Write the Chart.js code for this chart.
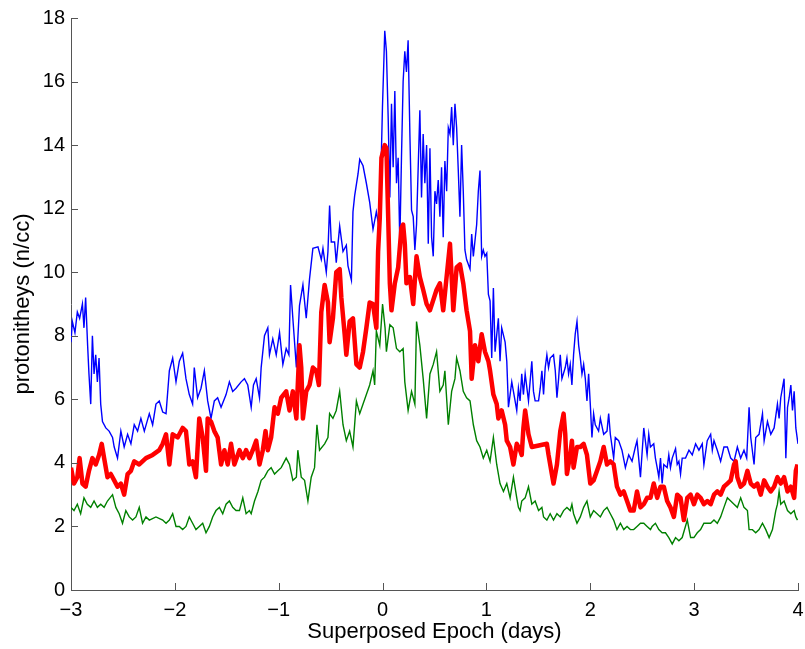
<!DOCTYPE html>
<html>
<head>
<meta charset="utf-8">
<script src="https://cdn.jsdelivr.net/npm/chart.js@4.4.1/dist/chart.umd.min.js"></script>
<style>
  html, body { margin: 0; padding: 0; background: #fff; }
</style>
</head>
<body>
<canvas id="epochChart" width="805" height="649"></canvas>
<script>
// superposed epoch analysis, proton density
// upper (blue), median (red), lower (green) curves

const xTicks = [-3, -2, -1, 0, 1, 2, 3, 4];
const yTicks = [0, 2, 4, 6, 8, 10, 12, 14, 16, 18];

const blueT = [-3.0, -2.987, -2.962, -2.939, -2.917, -2.89, -2.875, -2.859, -2.84, -2.827, -2.81, -2.794, -2.778, -2.762, -2.746, -2.73, -2.714, -2.697, -2.665, -2.633, -2.6, -2.584, -2.552, -2.52, -2.488, -2.455, -2.423, -2.391, -2.359, -2.327, -2.294, -2.246, -2.214, -2.182, -2.15, -2.117, -2.085, -2.053, -2.021, -1.989, -1.957, -1.925, -1.893, -1.861, -1.829, -1.813, -1.781, -1.748, -1.716, -1.684, -1.652, -1.62, -1.588, -1.555, -1.507, -1.475, -1.443, -1.411, -1.362, -1.33, -1.298,
  -1.265, -1.243, -1.217, -1.185, -1.169, -1.137, -1.105, -1.089, -1.057, -1.024, -0.992, -0.96, -0.928, -0.902, -0.886, -0.864, -0.83, -0.8, -0.767, -0.735, -0.703, -0.671, -0.622, -0.59, -0.574, -0.542, -0.526, -0.51, -0.494, -0.462, -0.446, -0.413, -0.381, -0.349, -0.333, -0.3, -0.285, -0.269, -0.236, -0.22, -0.188, -0.156, -0.124, -0.092, -0.06, -0.027,
  -0.011, -0.001, 0.012, 0.021, 0.037, 0.054, 0.07, 0.086, 0.102, 0.118, 0.134, 0.15, 0.166, 0.182, 0.198, 0.214, 0.23, 0.246, 0.263, 0.279, 0.295, 0.311, 0.327, 0.359, 0.375, 0.391, 0.407, 0.424, 0.44, 0.456, 0.472, 0.488, 0.504, 0.52, 0.536, 0.552, 0.568, 0.584, 0.6, 0.617, 0.633, 0.649, 0.665, 0.681, 0.697, 0.713, 0.729, 0.745, 0.761, 0.777, 0.793, 0.809, 0.842, 0.858, 0.874, 0.906, 0.922, 0.938, 0.954, 0.97, 0.986, 1.003,
  1.019, 1.035, 1.051, 1.067, 1.083, 1.115, 1.131, 1.147, 1.18, 1.196, 1.212, 1.228, 1.244, 1.26, 1.292,
  1.308, 1.324, 1.34, 1.356, 1.373, 1.405, 1.437, 1.453, 1.469, 1.502, 1.518, 1.534, 1.55, 1.566, 1.582, 1.598, 1.614, 1.646, 1.663, 1.679, 1.695, 1.711, 1.727, 1.759, 1.775, 1.791, 1.807, 1.823, 1.839, 1.855, 1.872, 1.888, 1.904, 1.92, 1.936, 1.952, 1.968, 1.984, 2.0, 2.016, 2.032, 2.048, 2.08, 2.097, 2.129, 2.161, 2.177, 2.193, 2.225, 2.241, 2.273, 2.305, 2.338, 2.37, 2.402, 2.434, 2.45, 2.483, 2.515, 2.547, 2.563,
  2.579, 2.611, 2.627, 2.644, 2.66, 2.676, 2.692, 2.708, 2.74, 2.756, 2.772, 2.789, 2.821, 2.837, 2.853, 2.869, 2.885, 2.917, 2.95, 2.982, 3.014, 3.046, 3.078, 3.094, 3.126, 3.159, 3.175, 3.191, 3.223, 3.255, 3.287, 3.32, 3.352, 3.384, 3.416, 3.448, 3.48, 3.506, 3.529, 3.545, 3.577, 3.593, 3.625, 3.658, 3.674, 3.706, 3.738, 3.77, 3.802, 3.818, 3.834, 3.85, 3.866, 3.883, 3.899, 3.915, 3.931, 3.947, 3.963, 3.979, 4.0];
const blueV = [7.8, 8.45, 8.1, 8.75, 8.55, 9.0, 8.25, 9.2, 7.7, 6.8, 5.85, 8.0, 6.8, 7.4, 6.55, 7.3, 5.85, 5.3, 5.1, 5.0, 4.8, 4.5, 4.15, 5.0, 4.5, 4.9, 4.6, 5.2, 5.0, 5.4, 5.0, 5.55, 5.2, 5.85, 5.95, 5.6, 5.55, 6.9, 7.3, 6.55, 7.2, 7.45, 6.65, 6.15, 5.85, 7.0, 6.05, 6.35, 6.9, 5.95, 5.4, 5.95, 6.05, 5.75, 6.15, 6.55, 6.25, 6.35, 6.55, 6.65, 6.45,
  5.75, 6.45, 6.65, 6.05, 7.0, 8.0, 8.25, 7.4, 7.9, 7.4, 8.1, 7.1, 7.6, 7.4, 9.6, 8.55, 7.0, 8.95, 9.6, 8.55, 9.8, 10.75, 10.8, 10.4, 10.75, 10.0, 10.65, 12.1, 10.95, 10.95, 10.3, 11.45, 10.65, 10.85, 10.2, 9.75, 11.9, 12.4, 13.1, 13.55, 13.35, 12.8, 12.2, 11.35, 11.9, 11.3,
  13.8, 15.2, 16.6, 17.6, 16.95, 14.85, 12.35, 15.3, 13.3, 15.7, 12.8, 13.6, 10.9, 13.6, 16.0, 16.95, 16.3, 17.3, 14.35, 11.95, 11.75, 10.7, 11.5, 15.1, 12.35, 14.35, 12.8, 14.0, 10.9, 13.9, 11.1, 10.5, 12.55, 12.15, 12.9, 11.75, 13.3, 11.1, 13.5, 12.55, 14.55, 14.35, 15.2, 14.0, 15.3, 14.55, 13.2, 11.75, 14.0, 12.55, 10.7, 10.4, 10.1, 11.2, 10.5, 11.5, 12.55, 13.2, 10.5, 10.7, 10.5, 10.6,
  9.3, 9.1, 7.3, 9.5, 7.5, 8.55, 7.2, 8.25, 7.8, 7.2, 5.75, 6.15, 6.55, 6.25, 5.65,
  6.35, 5.95, 6.8, 6.15, 6.8, 5.95, 7.2, 6.25, 5.95, 5.95, 6.35, 6.9, 6.15, 7.0, 7.4, 7.0, 7.3, 7.4, 6.9, 6.05, 6.65, 7.4, 6.65, 7.0, 7.3, 6.8, 7.1, 6.45, 7.4, 8.05, 8.45, 7.7, 7.3, 6.8, 7.1, 6.65, 5.95, 6.8, 5.85, 4.8, 5.55, 5.2, 5.0, 5.4, 4.9, 5.0, 5.55, 4.9, 4.15, 4.8, 4.7, 4.4, 3.85, 4.25, 4.05, 4.5, 4.7, 3.55, 5.1, 4.25, 4.9,
  4.5, 4.6, 4.15, 3.85, 3.55, 4.15, 3.35, 3.95, 3.85, 4.25, 3.85, 4.15, 4.45, 3.95, 4.05, 3.65, 4.15, 4.15, 4.4, 4.25, 4.6, 4.4, 4.6, 3.95, 4.7, 4.9, 4.4, 4.7, 4.4, 4.05, 4.5, 4.5, 4.15, 4.05, 4.5, 4.15, 4.4, 4.15, 5.75, 4.8, 3.95, 4.8, 4.9, 5.55, 4.7, 5.3, 4.9, 5.1, 5.85, 5.4, 6.05, 6.35, 6.65, 4.15, 5.75, 6.05, 6.45, 5.65, 6.25, 5.1, 4.6];

const redT = [-3.0, -2.971, -2.939, -2.917, -2.89, -2.859, -2.827, -2.794, -2.762, -2.73, -2.704, -2.681, -2.649, -2.617, -2.584, -2.552, -2.52, -2.488, -2.455, -2.423, -2.391, -2.343, -2.278, -2.214, -2.15, -2.117, -2.085, -2.053, -2.021, -1.973, -1.925, -1.893, -1.861, -1.829, -1.797, -1.765, -1.732, -1.7, -1.684, -1.652, -1.62, -1.588, -1.555, -1.523, -1.491, -1.459, -1.427, -1.378, -1.346, -1.314, -1.282,
  -1.25, -1.217, -1.185, -1.153, -1.127, -1.105, -1.073, -1.04, -1.008, -0.976, -0.928, -0.896, -0.864, -0.83, -0.8, -0.783, -0.767, -0.735, -0.703, -0.671, -0.639, -0.613, -0.59, -0.558, -0.526, -0.51, -0.478, -0.446, -0.413, -0.397, -0.365, -0.349, -0.317, -0.285, -0.252, -0.22, -0.188, -0.156, -0.124, -0.092, -0.06, -0.043, -0.027,
  -0.011, 0.021, 0.037, 0.054, 0.07, 0.086, 0.118, 0.15, 0.182, 0.198, 0.214, 0.23, 0.263, 0.295, 0.327, 0.359, 0.391, 0.424, 0.456, 0.52, 0.552, 0.584, 0.649, 0.681, 0.713, 0.745, 0.777, 0.809,
  0.842, 0.858, 0.89, 0.922, 0.954, 0.986, 1.019, 1.035, 1.067, 1.099, 1.115, 1.147, 1.18, 1.196, 1.228, 1.26, 1.292, 1.324,
  1.34, 1.356, 1.373, 1.405, 1.437, 1.582, 1.598, 1.63, 1.646, 1.679, 1.711, 1.743, 1.759, 1.775, 1.807, 1.823, 1.839, 1.872, 1.904, 1.936, 1.968, 2.0, 2.032, 2.065, 2.097, 2.129, 2.161, 2.193, 2.225, 2.257, 2.29, 2.322, 2.354, 2.386, 2.418, 2.45, 2.483, 2.515, 2.547, 2.58,
  2.611, 2.644, 2.676, 2.708, 2.74, 2.772, 2.805, 2.837, 2.869, 2.901, 2.934, 2.966, 2.998, 3.03, 3.062, 3.094, 3.126, 3.159, 3.191, 3.223, 3.255, 3.287, 3.32, 3.352, 3.384, 3.4, 3.416, 3.448, 3.48, 3.513, 3.545, 3.577, 3.609, 3.641, 3.674, 3.706, 3.738, 3.77, 3.802, 3.834, 3.866, 3.899, 3.931, 3.963, 3.979, 3.995];
const redV = [3.85, 3.35, 3.55, 4.15, 3.35, 3.25, 3.75, 4.15, 3.95, 4.25, 4.6, 4.15, 3.55, 3.65, 3.45, 3.25, 3.35, 3.0, 3.65, 3.75, 4.05, 3.95, 4.15, 4.25, 4.4, 4.6, 4.9, 3.95, 4.9, 4.8, 5.1, 5.0, 3.95, 4.05, 3.55, 5.4, 4.8, 3.75, 5.4, 5.3, 5.0, 4.8, 3.95, 4.4, 3.95, 4.6, 3.95, 4.4, 4.15, 4.4, 4.15,
  4.4, 4.7, 3.95, 4.4, 5.0, 4.4, 4.8, 5.75, 5.55, 6.05, 6.25, 5.65, 6.25, 5.4, 7.7, 7.0, 5.4, 6.25, 6.45, 7.0, 6.9, 6.45, 8.75, 9.6, 9.05, 7.8, 8.55, 10.0, 10.1, 9.2, 8.05, 7.4, 8.45, 8.55, 7.1, 7.0, 7.5, 8.25, 9.05, 9.0, 8.25, 10.65, 11.7,
  13.6, 14.0, 13.9, 11.75, 9.65, 8.8, 9.65, 10.15, 11.4, 11.5, 10.9, 9.65, 9.85, 9.0, 10.5, 9.85, 9.45, 9.0, 8.8, 9.45, 9.65, 8.8, 10.9, 8.8, 10.15, 10.25, 9.65, 8.8,
  8.15, 6.65, 7.7, 7.2, 8.05, 7.5, 7.2, 6.9, 6.15, 5.85, 5.4, 5.65, 5.2, 4.7, 4.5, 3.95, 4.6, 4.4,
  4.25, 5.1, 5.65, 4.9, 4.5, 4.6, 4.25, 3.65, 3.35, 3.95, 5.0, 5.55, 4.9, 3.65, 4.25, 4.7, 3.85, 4.5, 4.5, 4.6, 4.25, 3.35, 3.45, 3.75, 4.05, 4.5, 3.95, 4.05, 3.95, 3.25, 3.0, 3.1, 2.8, 2.5, 2.5, 3.1, 2.6, 2.7, 2.9, 2.9,
  3.35, 2.9, 3.25, 3.25, 2.8, 2.6, 2.3, 3.0, 2.9, 2.2, 2.9, 3.0, 2.7, 3.0, 2.9, 2.7, 2.8, 2.7, 3.0, 3.1, 3.0, 3.25, 3.35, 3.45, 3.95, 4.05, 3.55, 3.25, 3.35, 3.75, 3.35, 3.25, 3.35, 3.0, 3.45, 3.25, 3.1, 3.25, 3.55, 3.35, 3.55, 3.1, 3.25, 2.9, 3.75, 3.95];

const greenT = [-3.0, -2.971, -2.939, -2.907, -2.875, -2.843, -2.81, -2.778, -2.746, -2.714, -2.681, -2.649, -2.6, -2.568, -2.536, -2.504, -2.472, -2.439, -2.407, -2.375, -2.343, -2.311, -2.278, -2.246, -2.182, -2.117, -2.085, -2.053, -2.021, -1.989, -1.957, -1.925, -1.893, -1.861, -1.829, -1.797, -1.765, -1.732, -1.7, -1.668, -1.636, -1.604, -1.571, -1.539, -1.507, -1.475, -1.443, -1.411, -1.378, -1.346, -1.314, -1.282,
  -1.265, -1.233, -1.2, -1.169, -1.137, -1.105, -1.073, -1.04, -1.008, -0.976, -0.928, -0.896, -0.864, -0.83, -0.816, -0.783, -0.751, -0.719, -0.687, -0.655, -0.632, -0.607, -0.558, -0.526, -0.51, -0.478, -0.446, -0.413, -0.381, -0.349, -0.317, -0.285, -0.252, -0.22, -0.188, -0.156, -0.124, -0.092, -0.076, -0.06, -0.027, 0.0, 0.024,
  0.037, 0.07, 0.102, 0.134, 0.166, 0.198, 0.214, 0.246, 0.279, 0.311, 0.327, 0.359, 0.391, 0.424, 0.456, 0.488, 0.52, 0.552, 0.584, 0.6, 0.633, 0.665, 0.697, 0.713, 0.745, 0.777, 0.809, 0.842, 0.874, 0.906, 0.938, 0.97, 1.003, 1.035, 1.067, 1.099, 1.131, 1.164, 1.196, 1.228, 1.26, 1.292,
  1.308, 1.324, 1.34, 1.373, 1.405, 1.437, 1.469, 1.502, 1.534, 1.55, 1.582, 1.614, 1.646, 1.679, 1.711, 1.743, 1.775, 1.807, 1.823, 1.839, 1.872, 1.904, 1.936, 1.968, 2.0, 2.032, 2.065, 2.097, 2.129, 2.161, 2.193, 2.225, 2.257, 2.29, 2.322, 2.354, 2.386, 2.418, 2.45, 2.483, 2.515, 2.547, 2.58,
  2.595, 2.627, 2.66, 2.692, 2.724, 2.756, 2.789, 2.821, 2.853, 2.885, 2.934, 2.966, 2.998, 3.03, 3.062, 3.094, 3.126, 3.159, 3.191, 3.223, 3.255, 3.287, 3.32, 3.352, 3.384, 3.416, 3.448, 3.48, 3.513, 3.529, 3.561, 3.593, 3.625, 3.658, 3.69, 3.722, 3.754, 3.786, 3.802, 3.818, 3.834, 3.866, 3.899, 3.931, 3.963, 3.979, 3.995];
const greenV = [2.6, 2.5, 2.7, 2.4, 2.9, 2.7, 2.6, 2.8, 2.6, 2.7, 2.6, 2.8, 3.0, 2.6, 2.4, 2.1, 2.5, 2.3, 2.2, 2.3, 2.6, 2.1, 2.3, 2.2, 2.3, 2.2, 2.1, 2.2, 2.4, 2.0, 2.0, 1.9, 2.0, 2.3, 2.1, 1.9, 2.0, 2.1, 1.8, 2.0, 2.3, 2.5, 2.6, 2.4, 2.7, 2.8, 2.6, 2.5, 2.5, 2.9, 2.4, 2.5,
  2.4, 2.8, 3.1, 3.45, 3.55, 3.75, 3.85, 3.65, 3.75, 3.85, 4.15, 3.95, 3.45, 3.55, 4.4, 3.55, 3.45, 2.8, 3.55, 3.85, 5.2, 4.4, 4.6, 4.8, 5.55, 5.4, 5.65, 6.25, 5.2, 4.7, 5.0, 4.5, 5.95, 5.55, 5.85, 6.15, 6.45, 6.9, 6.45, 8.15, 7.7, 9.0, 8.25,
  7.5, 8.35, 8.25, 7.6, 7.5, 7.6, 6.55, 5.65, 6.25, 5.85, 8.45, 7.7, 6.65, 5.4, 6.8, 7.1, 7.5, 6.25, 6.45, 6.9, 5.2, 6.25, 6.65, 7.3, 6.9, 6.25, 6.05, 5.95, 5.2, 4.7, 4.5, 4.15, 4.4, 4.05, 4.8, 3.95, 3.35, 3.1, 3.35, 2.9, 3.55, 2.9,
  2.6, 2.5, 2.8, 2.9, 3.25, 2.7, 2.8, 2.5, 2.6, 2.3, 2.2, 2.4, 2.2, 2.4, 2.3, 2.5, 2.6, 2.5, 2.7, 2.4, 2.1, 2.3, 2.6, 2.8, 2.3, 2.5, 2.4, 2.3, 2.5, 2.6, 2.4, 2.2, 1.9, 2.1, 1.9, 2.0, 1.9, 1.9, 2.0, 2.1, 2.1, 2.0, 1.9,
  2.0, 2.1, 1.9, 1.8, 1.8, 1.65, 1.45, 1.65, 1.55, 1.65, 2.2, 1.65, 1.65, 1.8, 1.9, 2.1, 2.1, 2.1, 2.2, 2.1, 2.3, 2.6, 2.9, 2.8, 2.7, 2.6, 2.9, 2.6, 2.5, 1.9, 1.9, 1.8, 1.9, 2.1, 1.9, 1.65, 1.9, 2.5, 2.7, 3.1, 2.7, 2.8, 2.5, 2.4, 2.5, 2.3, 2.2];

const toPoints = (ts, vs) => ts.map((t, i) => ({ x: t, y: vs[i] }));

const axisColor = '#555555';
const fontFamily = '"Liberation Sans", Arial, Helvetica, sans-serif';

// matlab style ticks, pointing into the plot
const inwardTicks = {
  id: 'inwardTicks',
  afterDraw(chart) {
    const { ctx, chartArea, scales } = chart;
    ctx.save();
    ctx.strokeStyle = axisColor;
    ctx.lineWidth = 1;
    ctx.beginPath();
    xTicks.forEach(v => {
      const px = Math.round(scales.x.getPixelForValue(v)) + 0.5;
      ctx.moveTo(px, chartArea.bottom);
      ctx.lineTo(px, chartArea.bottom - 7);
    });
    yTicks.forEach(v => {
      const py = Math.round(scales.y.getPixelForValue(v)) + 0.5;
      ctx.moveTo(chartArea.left, py);
      ctx.lineTo(chartArea.left + 7, py);
    });
    ctx.stroke();
    ctx.restore();
  }
};

const ctx = document.getElementById('epochChart').getContext('2d');
const epochChart = new Chart(ctx, {
  type: 'scatter',
  data: {
    datasets: [
      {
        label: 'median',
        data: toPoints(redT, redV),
        showLine: true,
        borderColor: '#ff0000',
        borderWidth: 4.5,
        borderJoinStyle: 'round',
        pointRadius: 0,
        tension: 0
      },
      {
        label: 'upper',
        data: toPoints(blueT, blueV),
        showLine: true,
        borderColor: '#0000ff',
        borderWidth: 1.4,
        pointRadius: 0,
        tension: 0
      },
      {
        label: 'lower',
        data: toPoints(greenT, greenV),
        showLine: true,
        borderColor: '#008000',
        borderWidth: 1.4,
        pointRadius: 0,
        tension: 0
      }
    ]
  },
  options: {
    responsive: false,
    animation: false,
    layout: {
      padding: { top: 16, right: 7, left: 0, bottom: 0 }
    },
    plugins: {
      legend: { display: false },
      tooltip: { enabled: false }
    },
    scales: {
      x: {
        type: 'linear',
        min: -3,
        max: 4,
        afterFit: (scale) => {
          scale.height = 59;
          scale.paddingLeft = 0;
          scale.paddingRight = 0;
        },
        afterBuildTicks: (scale) => { scale.ticks = xTicks.map(v => ({ value: v })); },
        ticks: {
          color: '#000',
          font: { family: fontFamily, size: 20 },
          padding: 8,
          maxRotation: 0,
          callback: (v) => String(v).replace('-', '\u2212')
        },
        grid: { display: true, drawOnChartArea: false, drawTicks: false },
        border: { display: true, color: axisColor, width: 1 },
        title: {
          display: true,
          text: 'Superposed Epoch (days)',
          color: '#000',
          font: { family: fontFamily, size: 22 },
          padding: { top: 0, bottom: 4 }
        }
      },
      y: {
        min: 0,
        max: 18,
        afterFit: (scale) => { scale.width = 71; },
        afterBuildTicks: (scale) => { scale.ticks = yTicks.map(v => ({ value: v })); },
        ticks: {
          color: '#000',
          font: { family: fontFamily, size: 20 },
          padding: 6
        },
        grid: { display: true, drawOnChartArea: false, drawTicks: false },
        border: { display: true, color: axisColor, width: 1 },
        title: {
          display: true,
          text: 'protonitheys (n/cc)',
          color: '#000',
          font: { family: fontFamily, size: 22 },
          padding: { top: 10, bottom: 0 }
        }
      }
    }
  },
  plugins: [inwardTicks]
});
</script>
</body>
</html>
